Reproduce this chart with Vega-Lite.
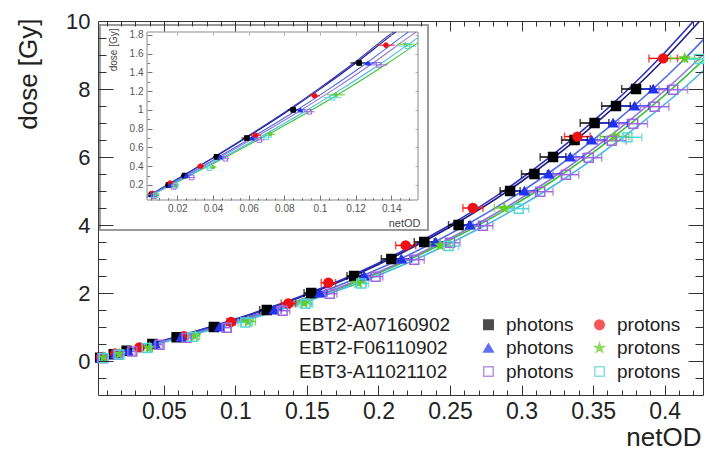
{
  "$schema": "https://vega.github.io/schema/vega-lite/v6.json",
  "width": 605,
  "height": 374,
  "autosize": {"type": "none"},
  "padding": {"left": 98, "top": 21, "right": 2, "bottom": 55},
  "background": "white",
  "config": {
    "view": {"stroke": "#333", "strokeWidth": 1},
    "font": "Liberation Sans",
    "axis": {"grid": false, "labelFont": "Liberation Sans", "titleFont": "Liberation Sans"}
  },
  "datasets": {
    "pts": [
      {"series": "EBT2-A07160902 photons", "film": "EBT2-A07160902", "netOD": 0.0055, "dose": 0.1, "lo": 0.0035, "hi": 0.0075},
      {"series": "EBT2-A07160902 photons", "film": "EBT2-A07160902", "netOD": 0.015, "dose": 0.2, "lo": 0.013, "hi": 0.017},
      {"series": "EBT2-A07160902 photons", "film": "EBT2-A07160902", "netOD": 0.024, "dose": 0.3, "lo": 0.022, "hi": 0.026},
      {"series": "EBT2-A07160902 photons", "film": "EBT2-A07160902", "netOD": 0.042, "dose": 0.5, "lo": 0.04, "hi": 0.044},
      {"series": "EBT2-A07160902 photons", "film": "EBT2-A07160902", "netOD": 0.059, "dose": 0.7, "lo": 0.056, "hi": 0.062},
      {"series": "EBT2-A07160902 photons", "film": "EBT2-A07160902", "netOD": 0.085, "dose": 1.0, "lo": 0.082, "hi": 0.088},
      {"series": "EBT2-A07160902 photons", "film": "EBT2-A07160902", "netOD": 0.122, "dose": 1.5, "lo": 0.117, "hi": 0.127},
      {"series": "EBT2-A07160902 photons", "film": "EBT2-A07160902", "netOD": 0.153, "dose": 2.0, "lo": 0.148, "hi": 0.158},
      {"series": "EBT2-A07160902 photons", "film": "EBT2-A07160902", "netOD": 0.183, "dose": 2.5, "lo": 0.178, "hi": 0.188},
      {"series": "EBT2-A07160902 photons", "film": "EBT2-A07160902", "netOD": 0.209, "dose": 3.0, "lo": 0.202, "hi": 0.216},
      {"series": "EBT2-A07160902 photons", "film": "EBT2-A07160902", "netOD": 0.232, "dose": 3.5, "lo": 0.225, "hi": 0.239},
      {"series": "EBT2-A07160902 photons", "film": "EBT2-A07160902", "netOD": 0.256, "dose": 4.0, "lo": 0.249, "hi": 0.263},
      {"series": "EBT2-A07160902 photons", "film": "EBT2-A07160902", "netOD": 0.292, "dose": 5.0, "lo": 0.285, "hi": 0.299},
      {"series": "EBT2-A07160902 photons", "film": "EBT2-A07160902", "netOD": 0.309, "dose": 5.5, "lo": 0.3, "hi": 0.318},
      {"series": "EBT2-A07160902 photons", "film": "EBT2-A07160902", "netOD": 0.322, "dose": 6.0, "lo": 0.313, "hi": 0.331},
      {"series": "EBT2-A07160902 photons", "film": "EBT2-A07160902", "netOD": 0.337, "dose": 6.5, "lo": 0.328, "hi": 0.346},
      {"series": "EBT2-A07160902 photons", "film": "EBT2-A07160902", "netOD": 0.351, "dose": 7.0, "lo": 0.341, "hi": 0.361},
      {"series": "EBT2-A07160902 photons", "film": "EBT2-A07160902", "netOD": 0.366, "dose": 7.5, "lo": 0.356, "hi": 0.376},
      {"series": "EBT2-A07160902 photons", "film": "EBT2-A07160902", "netOD": 0.38, "dose": 8.0, "lo": 0.37, "hi": 0.39},
      {"series": "EBT2-A07160902 protons", "film": "EBT2-A07160902", "netOD": 0.006, "dose": 0.11, "lo": 0.004, "hi": 0.008},
      {"series": "EBT2-A07160902 protons", "film": "EBT2-A07160902", "netOD": 0.016, "dose": 0.22, "lo": 0.014, "hi": 0.018},
      {"series": "EBT2-A07160902 protons", "film": "EBT2-A07160902", "netOD": 0.033, "dose": 0.4, "lo": 0.031, "hi": 0.035},
      {"series": "EBT2-A07160902 protons", "film": "EBT2-A07160902", "netOD": 0.064, "dose": 0.73, "lo": 0.061, "hi": 0.067},
      {"series": "EBT2-A07160902 protons", "film": "EBT2-A07160902", "netOD": 0.097, "dose": 1.15, "lo": 0.094, "hi": 0.1},
      {"series": "EBT2-A07160902 protons", "film": "EBT2-A07160902", "netOD": 0.137, "dose": 1.69, "lo": 0.132, "hi": 0.142},
      {"series": "EBT2-A07160902 protons", "film": "EBT2-A07160902", "netOD": 0.165, "dose": 2.3, "lo": 0.16, "hi": 0.17},
      {"series": "EBT2-A07160902 protons", "film": "EBT2-A07160902", "netOD": 0.219, "dose": 3.4, "lo": 0.212, "hi": 0.226},
      {"series": "EBT2-A07160902 protons", "film": "EBT2-A07160902", "netOD": 0.266, "dose": 4.5, "lo": 0.259, "hi": 0.273},
      {"series": "EBT2-A07160902 protons", "film": "EBT2-A07160902", "netOD": 0.339, "dose": 6.6, "lo": 0.33, "hi": 0.348},
      {"series": "EBT2-A07160902 protons", "film": "EBT2-A07160902", "netOD": 0.399, "dose": 8.9, "lo": 0.389, "hi": 0.409},
      {"series": "EBT2-F06110902 photons", "film": "EBT2-F06110902", "netOD": 0.006, "dose": 0.1, "lo": 0.004, "hi": 0.008},
      {"series": "EBT2-F06110902 photons", "film": "EBT2-F06110902", "netOD": 0.016, "dose": 0.2, "lo": 0.014, "hi": 0.018},
      {"series": "EBT2-F06110902 photons", "film": "EBT2-F06110902", "netOD": 0.025, "dose": 0.3, "lo": 0.023, "hi": 0.027},
      {"series": "EBT2-F06110902 photons", "film": "EBT2-F06110902", "netOD": 0.044, "dose": 0.5, "lo": 0.042, "hi": 0.046},
      {"series": "EBT2-F06110902 photons", "film": "EBT2-F06110902", "netOD": 0.062, "dose": 0.7, "lo": 0.059, "hi": 0.065},
      {"series": "EBT2-F06110902 photons", "film": "EBT2-F06110902", "netOD": 0.089, "dose": 1.0, "lo": 0.086, "hi": 0.092},
      {"series": "EBT2-F06110902 photons", "film": "EBT2-F06110902", "netOD": 0.127, "dose": 1.5, "lo": 0.122, "hi": 0.132},
      {"series": "EBT2-F06110902 photons", "film": "EBT2-F06110902", "netOD": 0.159, "dose": 2.0, "lo": 0.154, "hi": 0.164},
      {"series": "EBT2-F06110902 photons", "film": "EBT2-F06110902", "netOD": 0.19, "dose": 2.5, "lo": 0.185, "hi": 0.195},
      {"series": "EBT2-F06110902 photons", "film": "EBT2-F06110902", "netOD": 0.216, "dose": 3.0, "lo": 0.209, "hi": 0.223},
      {"series": "EBT2-F06110902 photons", "film": "EBT2-F06110902", "netOD": 0.24, "dose": 3.5, "lo": 0.233, "hi": 0.247},
      {"series": "EBT2-F06110902 photons", "film": "EBT2-F06110902", "netOD": 0.264, "dose": 4.0, "lo": 0.257, "hi": 0.271},
      {"series": "EBT2-F06110902 photons", "film": "EBT2-F06110902", "netOD": 0.302, "dose": 5.0, "lo": 0.293, "hi": 0.311},
      {"series": "EBT2-F06110902 photons", "film": "EBT2-F06110902", "netOD": 0.319, "dose": 5.5, "lo": 0.31, "hi": 0.328},
      {"series": "EBT2-F06110902 photons", "film": "EBT2-F06110902", "netOD": 0.334, "dose": 6.0, "lo": 0.325, "hi": 0.343},
      {"series": "EBT2-F06110902 photons", "film": "EBT2-F06110902", "netOD": 0.349, "dose": 6.5, "lo": 0.34, "hi": 0.358},
      {"series": "EBT2-F06110902 photons", "film": "EBT2-F06110902", "netOD": 0.364, "dose": 7.0, "lo": 0.354, "hi": 0.374},
      {"series": "EBT2-F06110902 photons", "film": "EBT2-F06110902", "netOD": 0.379, "dose": 7.5, "lo": 0.369, "hi": 0.389},
      {"series": "EBT2-F06110902 photons", "film": "EBT2-F06110902", "netOD": 0.392, "dose": 8.0, "lo": 0.382, "hi": 0.402},
      {"series": "EBT2-F06110902 protons", "film": "EBT2-F06110902", "netOD": 0.008, "dose": 0.1, "lo": 0.006, "hi": 0.01},
      {"series": "EBT2-F06110902 protons", "film": "EBT2-F06110902", "netOD": 0.019, "dose": 0.2, "lo": 0.017, "hi": 0.021},
      {"series": "EBT2-F06110902 protons", "film": "EBT2-F06110902", "netOD": 0.04, "dose": 0.39, "lo": 0.038, "hi": 0.042},
      {"series": "EBT2-F06110902 protons", "film": "EBT2-F06110902", "netOD": 0.072, "dose": 0.74, "lo": 0.069, "hi": 0.075},
      {"series": "EBT2-F06110902 protons", "film": "EBT2-F06110902", "netOD": 0.109, "dose": 1.16, "lo": 0.104, "hi": 0.114},
      {"series": "EBT2-F06110902 protons", "film": "EBT2-F06110902", "netOD": 0.148, "dose": 1.7, "lo": 0.143, "hi": 0.153},
      {"series": "EBT2-F06110902 protons", "film": "EBT2-F06110902", "netOD": 0.186, "dose": 2.3, "lo": 0.181, "hi": 0.191},
      {"series": "EBT2-F06110902 protons", "film": "EBT2-F06110902", "netOD": 0.243, "dose": 3.4, "lo": 0.236, "hi": 0.25},
      {"series": "EBT2-F06110902 protons", "film": "EBT2-F06110902", "netOD": 0.288, "dose": 4.5, "lo": 0.281, "hi": 0.295},
      {"series": "EBT2-F06110902 protons", "film": "EBT2-F06110902", "netOD": 0.365, "dose": 6.6, "lo": 0.355, "hi": 0.375},
      {"series": "EBT2-F06110902 protons", "film": "EBT2-F06110902", "netOD": 0.414, "dose": 8.9, "lo": 0.404, "hi": 0.424},
      {"series": "EBT3-A11021102 photons", "film": "EBT3-A11021102", "netOD": 0.007, "dose": 0.08, "lo": 0.005, "hi": 0.009},
      {"series": "EBT3-A11021102 photons", "film": "EBT3-A11021102", "netOD": 0.018, "dose": 0.18, "lo": 0.016, "hi": 0.02},
      {"series": "EBT3-A11021102 photons", "film": "EBT3-A11021102", "netOD": 0.028, "dose": 0.28, "lo": 0.026, "hi": 0.03},
      {"series": "EBT3-A11021102 photons", "film": "EBT3-A11021102", "netOD": 0.047, "dose": 0.48, "lo": 0.045, "hi": 0.049},
      {"series": "EBT3-A11021102 photons", "film": "EBT3-A11021102", "netOD": 0.066, "dose": 0.68, "lo": 0.063, "hi": 0.069},
      {"series": "EBT3-A11021102 photons", "film": "EBT3-A11021102", "netOD": 0.094, "dose": 0.98, "lo": 0.091, "hi": 0.097},
      {"series": "EBT3-A11021102 photons", "film": "EBT3-A11021102", "netOD": 0.133, "dose": 1.48, "lo": 0.128, "hi": 0.138},
      {"series": "EBT3-A11021102 photons", "film": "EBT3-A11021102", "netOD": 0.166, "dose": 1.98, "lo": 0.161, "hi": 0.171},
      {"series": "EBT3-A11021102 photons", "film": "EBT3-A11021102", "netOD": 0.198, "dose": 2.48, "lo": 0.193, "hi": 0.203},
      {"series": "EBT3-A11021102 photons", "film": "EBT3-A11021102", "netOD": 0.225, "dose": 2.98, "lo": 0.218, "hi": 0.232},
      {"series": "EBT3-A11021102 photons", "film": "EBT3-A11021102", "netOD": 0.25, "dose": 3.48, "lo": 0.243, "hi": 0.257},
      {"series": "EBT3-A11021102 photons", "film": "EBT3-A11021102", "netOD": 0.273, "dose": 3.98, "lo": 0.266, "hi": 0.28},
      {"series": "EBT3-A11021102 photons", "film": "EBT3-A11021102", "netOD": 0.313, "dose": 4.98, "lo": 0.304, "hi": 0.322},
      {"series": "EBT3-A11021102 photons", "film": "EBT3-A11021102", "netOD": 0.331, "dose": 5.48, "lo": 0.322, "hi": 0.34},
      {"series": "EBT3-A11021102 photons", "film": "EBT3-A11021102", "netOD": 0.347, "dose": 5.98, "lo": 0.338, "hi": 0.356},
      {"series": "EBT3-A11021102 photons", "film": "EBT3-A11021102", "netOD": 0.363, "dose": 6.48, "lo": 0.353, "hi": 0.373},
      {"series": "EBT3-A11021102 photons", "film": "EBT3-A11021102", "netOD": 0.378, "dose": 6.98, "lo": 0.368, "hi": 0.388},
      {"series": "EBT3-A11021102 photons", "film": "EBT3-A11021102", "netOD": 0.393, "dose": 7.48, "lo": 0.383, "hi": 0.403},
      {"series": "EBT3-A11021102 photons", "film": "EBT3-A11021102", "netOD": 0.406, "dose": 7.98, "lo": 0.396, "hi": 0.416},
      {"series": "EBT3-A11021102 protons", "film": "EBT3-A11021102", "netOD": 0.008, "dose": 0.09, "lo": 0.006, "hi": 0.01},
      {"series": "EBT3-A11021102 protons", "film": "EBT3-A11021102", "netOD": 0.019, "dose": 0.19, "lo": 0.017, "hi": 0.021},
      {"series": "EBT3-A11021102 protons", "film": "EBT3-A11021102", "netOD": 0.038, "dose": 0.38, "lo": 0.036, "hi": 0.04},
      {"series": "EBT3-A11021102 protons", "film": "EBT3-A11021102", "netOD": 0.07, "dose": 0.71, "lo": 0.067, "hi": 0.073},
      {"series": "EBT3-A11021102 protons", "film": "EBT3-A11021102", "netOD": 0.107, "dose": 1.13, "lo": 0.102, "hi": 0.112},
      {"series": "EBT3-A11021102 protons", "film": "EBT3-A11021102", "netOD": 0.149, "dose": 1.68, "lo": 0.144, "hi": 0.154},
      {"series": "EBT3-A11021102 protons", "film": "EBT3-A11021102", "netOD": 0.188, "dose": 2.28, "lo": 0.183, "hi": 0.193},
      {"series": "EBT3-A11021102 protons", "film": "EBT3-A11021102", "netOD": 0.249, "dose": 3.38, "lo": 0.242, "hi": 0.256},
      {"series": "EBT3-A11021102 protons", "film": "EBT3-A11021102", "netOD": 0.298, "dose": 4.48, "lo": 0.291, "hi": 0.305},
      {"series": "EBT3-A11021102 protons", "film": "EBT3-A11021102", "netOD": 0.374, "dose": 6.58, "lo": 0.364, "hi": 0.384},
      {"series": "EBT3-A11021102 protons", "film": "EBT3-A11021102", "netOD": 0.424, "dose": 8.88, "lo": 0.414, "hi": 0.434}
    ],
    "fits": [
      {"series": "EBT2-A07160902 photons", "netOD": 0.004, "dose": 0.084},
      {"series": "EBT2-A07160902 photons", "netOD": 0.05, "dose": 0.6},
      {"series": "EBT2-A07160902 photons", "netOD": 0.1, "dose": 1.22},
      {"series": "EBT2-A07160902 photons", "netOD": 0.15, "dose": 1.95},
      {"series": "EBT2-A07160902 photons", "netOD": 0.2, "dose": 2.84},
      {"series": "EBT2-A07160902 photons", "netOD": 0.25, "dose": 3.94},
      {"series": "EBT2-A07160902 photons", "netOD": 0.3, "dose": 5.28},
      {"series": "EBT2-A07160902 photons", "netOD": 0.35, "dose": 6.92},
      {"series": "EBT2-A07160902 photons", "netOD": 0.4, "dose": 8.89},
      {"series": "EBT2-A07160902 photons", "netOD": 0.4245, "dose": 10.0},
      {"series": "EBT2-A07160902 protons", "netOD": 0.004, "dose": 0.085},
      {"series": "EBT2-A07160902 protons", "netOD": 0.0495, "dose": 0.6},
      {"series": "EBT2-A07160902 protons", "netOD": 0.099, "dose": 1.22},
      {"series": "EBT2-A07160902 protons", "netOD": 0.1485, "dose": 1.95},
      {"series": "EBT2-A07160902 protons", "netOD": 0.198, "dose": 2.84},
      {"series": "EBT2-A07160902 protons", "netOD": 0.2475, "dose": 3.94},
      {"series": "EBT2-A07160902 protons", "netOD": 0.297, "dose": 5.28},
      {"series": "EBT2-A07160902 protons", "netOD": 0.3465, "dose": 6.92},
      {"series": "EBT2-A07160902 protons", "netOD": 0.396, "dose": 8.89},
      {"series": "EBT2-A07160902 protons", "netOD": 0.4203, "dose": 10.0},
      {"series": "EBT2-F06110902 photons", "netOD": 0.004, "dose": 0.08},
      {"series": "EBT2-F06110902 photons", "netOD": 0.0518, "dose": 0.6},
      {"series": "EBT2-F06110902 photons", "netOD": 0.1035, "dose": 1.22},
      {"series": "EBT2-F06110902 photons", "netOD": 0.1553, "dose": 1.95},
      {"series": "EBT2-F06110902 photons", "netOD": 0.207, "dose": 2.84},
      {"series": "EBT2-F06110902 photons", "netOD": 0.2588, "dose": 3.94},
      {"series": "EBT2-F06110902 photons", "netOD": 0.3105, "dose": 5.28},
      {"series": "EBT2-F06110902 photons", "netOD": 0.3623, "dose": 6.92},
      {"series": "EBT2-F06110902 photons", "netOD": 0.414, "dose": 8.89},
      {"series": "EBT2-F06110902 photons", "netOD": 0.4394, "dose": 10.0},
      {"series": "EBT2-F06110902 protons", "netOD": 0.004, "dose": 0.08},
      {"series": "EBT2-F06110902 protons", "netOD": 0.0535, "dose": 0.6},
      {"series": "EBT2-F06110902 protons", "netOD": 0.107, "dose": 1.22},
      {"series": "EBT2-F06110902 protons", "netOD": 0.1605, "dose": 1.95},
      {"series": "EBT2-F06110902 protons", "netOD": 0.214, "dose": 2.84},
      {"series": "EBT2-F06110902 protons", "netOD": 0.2675, "dose": 3.94},
      {"series": "EBT2-F06110902 protons", "netOD": 0.321, "dose": 5.28},
      {"series": "EBT2-F06110902 protons", "netOD": 0.3745, "dose": 6.92},
      {"series": "EBT2-F06110902 protons", "netOD": 0.428, "dose": 8.89},
      {"series": "EBT2-F06110902 protons", "netOD": 0.4542, "dose": 10.0},
      {"series": "EBT3-A11021102 photons", "netOD": 0.004, "dose": 0.08},
      {"series": "EBT3-A11021102 photons", "netOD": 0.053, "dose": 0.6},
      {"series": "EBT3-A11021102 photons", "netOD": 0.106, "dose": 1.22},
      {"series": "EBT3-A11021102 photons", "netOD": 0.159, "dose": 1.95},
      {"series": "EBT3-A11021102 photons", "netOD": 0.212, "dose": 2.84},
      {"series": "EBT3-A11021102 photons", "netOD": 0.265, "dose": 3.94},
      {"series": "EBT3-A11021102 photons", "netOD": 0.318, "dose": 5.28},
      {"series": "EBT3-A11021102 photons", "netOD": 0.371, "dose": 6.92},
      {"series": "EBT3-A11021102 photons", "netOD": 0.424, "dose": 8.89},
      {"series": "EBT3-A11021102 photons", "netOD": 0.45, "dose": 10.0},
      {"series": "EBT3-A11021102 protons", "netOD": 0.004, "dose": 0.08},
      {"series": "EBT3-A11021102 protons", "netOD": 0.0545, "dose": 0.6},
      {"series": "EBT3-A11021102 protons", "netOD": 0.109, "dose": 1.22},
      {"series": "EBT3-A11021102 protons", "netOD": 0.1635, "dose": 1.95},
      {"series": "EBT3-A11021102 protons", "netOD": 0.218, "dose": 2.84},
      {"series": "EBT3-A11021102 protons", "netOD": 0.2725, "dose": 3.94},
      {"series": "EBT3-A11021102 protons", "netOD": 0.327, "dose": 5.28},
      {"series": "EBT3-A11021102 protons", "netOD": 0.3815, "dose": 6.92},
      {"series": "EBT3-A11021102 protons", "netOD": 0.436, "dose": 8.89},
      {"series": "EBT3-A11021102 protons", "netOD": 0.4627, "dose": 10.0}
    ],
    "ifits": [
      {"series": "EBT2-A07160902 photons", "netOD": 0.003, "dose": 0.073},
      {"series": "EBT2-A07160902 photons", "netOD": 0.02, "dose": 0.261},
      {"series": "EBT2-A07160902 photons", "netOD": 0.04, "dose": 0.486},
      {"series": "EBT2-A07160902 photons", "netOD": 0.06, "dose": 0.719},
      {"series": "EBT2-A07160902 photons", "netOD": 0.08, "dose": 0.962},
      {"series": "EBT2-A07160902 photons", "netOD": 0.1, "dose": 1.221},
      {"series": "EBT2-A07160902 photons", "netOD": 0.12, "dose": 1.497},
      {"series": "EBT2-A07160902 photons", "netOD": 0.14, "dose": 1.794},
      {"series": "EBT2-A07160902 photons", "netOD": 0.1425, "dose": 1.83},
      {"series": "EBT2-A07160902 protons", "netOD": 0.003, "dose": 0.075},
      {"series": "EBT2-A07160902 protons", "netOD": 0.0198, "dose": 0.261},
      {"series": "EBT2-A07160902 protons", "netOD": 0.0396, "dose": 0.486},
      {"series": "EBT2-A07160902 protons", "netOD": 0.0594, "dose": 0.719},
      {"series": "EBT2-A07160902 protons", "netOD": 0.0792, "dose": 0.962},
      {"series": "EBT2-A07160902 protons", "netOD": 0.099, "dose": 1.221},
      {"series": "EBT2-A07160902 protons", "netOD": 0.1188, "dose": 1.497},
      {"series": "EBT2-A07160902 protons", "netOD": 0.1386, "dose": 1.794},
      {"series": "EBT2-A07160902 protons", "netOD": 0.1411, "dose": 1.83},
      {"series": "EBT2-F06110902 photons", "netOD": 0.003, "dose": 0.07},
      {"series": "EBT2-F06110902 photons", "netOD": 0.021, "dose": 0.261},
      {"series": "EBT2-F06110902 photons", "netOD": 0.042, "dose": 0.486},
      {"series": "EBT2-F06110902 photons", "netOD": 0.063, "dose": 0.719},
      {"series": "EBT2-F06110902 photons", "netOD": 0.084, "dose": 0.962},
      {"series": "EBT2-F06110902 photons", "netOD": 0.105, "dose": 1.221},
      {"series": "EBT2-F06110902 photons", "netOD": 0.126, "dose": 1.497},
      {"series": "EBT2-F06110902 photons", "netOD": 0.147, "dose": 1.794},
      {"series": "EBT2-F06110902 photons", "netOD": 0.1496, "dose": 1.83},
      {"series": "EBT2-F06110902 protons", "netOD": 0.003, "dose": 0.068},
      {"series": "EBT2-F06110902 protons", "netOD": 0.023, "dose": 0.261},
      {"series": "EBT2-F06110902 protons", "netOD": 0.046, "dose": 0.486},
      {"series": "EBT2-F06110902 protons", "netOD": 0.069, "dose": 0.719},
      {"series": "EBT2-F06110902 protons", "netOD": 0.092, "dose": 0.962},
      {"series": "EBT2-F06110902 protons", "netOD": 0.115, "dose": 1.221},
      {"series": "EBT2-F06110902 protons", "netOD": 0.138, "dose": 1.497},
      {"series": "EBT2-F06110902 protons", "netOD": 0.155, "dose": 1.715},
      {"series": "EBT3-A11021102 photons", "netOD": 0.003, "dose": 0.07},
      {"series": "EBT3-A11021102 photons", "netOD": 0.0216, "dose": 0.261},
      {"series": "EBT3-A11021102 photons", "netOD": 0.0432, "dose": 0.486},
      {"series": "EBT3-A11021102 photons", "netOD": 0.0648, "dose": 0.719},
      {"series": "EBT3-A11021102 photons", "netOD": 0.0864, "dose": 0.962},
      {"series": "EBT3-A11021102 photons", "netOD": 0.108, "dose": 1.221},
      {"series": "EBT3-A11021102 photons", "netOD": 0.1296, "dose": 1.497},
      {"series": "EBT3-A11021102 photons", "netOD": 0.1512, "dose": 1.794},
      {"series": "EBT3-A11021102 photons", "netOD": 0.1539, "dose": 1.83},
      {"series": "EBT3-A11021102 protons", "netOD": 0.003, "dose": 0.068},
      {"series": "EBT3-A11021102 protons", "netOD": 0.0224, "dose": 0.261},
      {"series": "EBT3-A11021102 protons", "netOD": 0.0448, "dose": 0.486},
      {"series": "EBT3-A11021102 protons", "netOD": 0.0672, "dose": 0.719},
      {"series": "EBT3-A11021102 protons", "netOD": 0.0896, "dose": 0.962},
      {"series": "EBT3-A11021102 protons", "netOD": 0.112, "dose": 1.221},
      {"series": "EBT3-A11021102 protons", "netOD": 0.1344, "dose": 1.497},
      {"series": "EBT3-A11021102 protons", "netOD": 0.155, "dose": 1.77}
    ]
  },
  "resolve": {
    "scale": {"x": "independent", "y": "independent"},
    "axis": {"x": "independent", "y": "independent"}
  },
  "layer": [
    {
      "data": {"name": "fits"},
      "mark": {"type": "line", "strokeWidth": 1.6, "interpolate": "monotone", "clip": true},
      "encoding": {
        "x": {"field": "netOD", "type": "quantitative", "scale": {"domain": [0.004, 0.4268], "nice": false, "zero": false},
          "axis": {"orient": "bottom", "offset": -10, "values": [0.05, 0.1, 0.15, 0.2, 0.25, 0.3, 0.35, 0.4], "labels": false, "domain": false, "tickSize": 10, "tickColor": "#333", "tickWidth": 1, "title": null, "zindex": 2}},
        "y": {"field": "dose", "type": "quantitative", "scale": {"domain": [-1, 10], "nice": false, "zero": false},
          "axis": {"orient": "left", "offset": -15, "values": [0, 2, 4, 6, 8], "labels": false, "domain": false, "tickSize": 15, "tickColor": "#333", "tickWidth": 1, "title": null, "zindex": 2}},
        "color": {"field": "series", "type": "nominal", "legend": null,
          "scale": {"domain": ["EBT3-A11021102 protons", "EBT3-A11021102 photons", "EBT2-F06110902 protons", "EBT2-F06110902 photons", "EBT2-A07160902 protons", "EBT2-A07160902 photons"],
            "range": ["#45b9e6", "#9474dc", "#39c339", "#4d6de3", "#2f2fc4", "#1e1e7c"]}}
      }
    },
    {
      "data": {"name": "pts"},
      "mark": {"type": "rule", "strokeWidth": 1.5, "clip": true},
      "encoding": {
        "x": {"field": "lo", "type": "quantitative", "scale": {"domain": [0.004, 0.4268], "nice": false, "zero": false},
          "axis": {"orient": "bottom", "offset": -5, "values": [0.01, 0.02, 0.03, 0.04, 0.06, 0.07, 0.08, 0.09, 0.11, 0.12, 0.13, 0.14, 0.16, 0.17, 0.18, 0.19, 0.21, 0.22, 0.23, 0.24, 0.26, 0.27, 0.28, 0.29, 0.31, 0.32, 0.33, 0.34, 0.36, 0.37, 0.38, 0.39, 0.41, 0.42], "labels": false, "domain": false, "tickSize": 5, "tickColor": "#333", "tickWidth": 1, "title": null, "zindex": 2}},
        "x2": {"field": "hi"},
        "y": {"field": "dose", "type": "quantitative", "scale": {"domain": [-1, 10], "nice": false, "zero": false},
          "axis": {"orient": "left", "offset": -8, "values": [-0.5, 0.5, 1, 1.5, 2.5, 3, 3.5, 4.5, 5, 5.5, 6.5, 7, 7.5, 8.5, 9, 9.5], "labels": false, "domain": false, "tickSize": 8, "tickColor": "#333", "tickWidth": 1, "title": null, "zindex": 2}},
        "stroke": {"field": "series", "type": "nominal",
          "scale": {"domain": ["EBT2-A07160902 photons", "EBT2-F06110902 photons", "EBT3-A11021102 photons", "EBT2-A07160902 protons", "EBT2-F06110902 protons", "EBT3-A11021102 protons"],
            "range": ["#000000", "#2233ee", "#a066e0", "#ee1111", "#66cc22", "#55d5d5"]}}
      }
    },
    {
      "data": {"name": "pts"},
      "mark": {"type": "point", "shape": "M0,-1L0,1", "size": 64, "strokeWidth": 1.5, "filled": false, "clip": true},
      "encoding": {
        "x": {"field": "lo", "type": "quantitative", "scale": {"domain": [0.004, 0.4268], "nice": false, "zero": false},
          "axis": {"orient": "top", "offset": -10, "values": [0.05, 0.1, 0.15, 0.2, 0.25, 0.3, 0.35, 0.4], "labels": false, "domain": false, "tickSize": 10, "tickColor": "#333", "tickWidth": 1, "title": null, "zindex": 2}},
        "y": {"field": "dose", "type": "quantitative", "scale": {"domain": [-1, 10], "nice": false, "zero": false},
          "axis": {"orient": "right", "offset": -15, "values": [0, 2, 4, 6, 8], "labels": false, "domain": false, "tickSize": 15, "tickColor": "#333", "tickWidth": 1, "title": null, "zindex": 2}},
        "stroke": {"field": "series", "type": "nominal"}
      }
    },
    {
      "data": {"name": "pts"},
      "mark": {"type": "point", "shape": "M0,-1L0,1", "size": 64, "strokeWidth": 1.5, "filled": false, "clip": true},
      "encoding": {
        "x": {"field": "hi", "type": "quantitative", "scale": {"domain": [0.004, 0.4268], "nice": false, "zero": false},
          "axis": {"orient": "top", "offset": -5, "values": [0.01, 0.02, 0.03, 0.04, 0.06, 0.07, 0.08, 0.09, 0.11, 0.12, 0.13, 0.14, 0.16, 0.17, 0.18, 0.19, 0.21, 0.22, 0.23, 0.24, 0.26, 0.27, 0.28, 0.29, 0.31, 0.32, 0.33, 0.34, 0.36, 0.37, 0.38, 0.39, 0.41, 0.42], "labels": false, "domain": false, "tickSize": 5, "tickColor": "#333", "tickWidth": 1, "title": null, "zindex": 2}},
        "y": {"field": "dose", "type": "quantitative", "scale": {"domain": [-1, 10], "nice": false, "zero": false},
          "axis": {"orient": "right", "offset": -8, "values": [-0.5, 0.5, 1, 1.5, 2.5, 3, 3.5, 4.5, 5, 5.5, 6.5, 7, 7.5, 8.5, 9, 9.5], "labels": false, "domain": false, "tickSize": 8, "tickColor": "#333", "tickWidth": 1, "title": null, "zindex": 2}},
        "stroke": {"field": "series", "type": "nominal"}
      }
    },
    {
      "data": {"name": "pts"},
      "mark": {"type": "point", "size": 80, "strokeWidth": 1.5, "opacity": 1},
      "encoding": {
        "x": {"field": "netOD", "type": "quantitative", "scale": {"domain": [0.004, 0.4268], "nice": false, "zero": false},
          "axis": {"orient": "bottom", "values": [0.05, 0.1, 0.15, 0.2, 0.25, 0.3, 0.35, 0.4], "format": "~g", "ticks": false, "domain": false, "labelFontSize": 23, "labelColor": "#222", "labelPadding": 5, "labelFlush": false, "labelOverlap": false, "zindex": 2,
            "title": "netOD", "titleFontSize": 26, "titleFontWeight": "normal", "titleColor": "#222", "titleAlign": "right", "titleX": 603, "titleY": 50, "titleBaseline": "alphabetic"}},
        "y": {"field": "dose", "type": "quantitative", "scale": {"domain": [-1, 10], "nice": false, "zero": false},
          "axis": {"orient": "left", "values": [0, 2, 4, 6, 8, 10], "format": "d", "ticks": false, "domain": false, "labelFontSize": 22, "labelColor": "#222", "labelPadding": 8, "labelFlush": false, "labelOverlap": false, "zindex": 2,
            "title": "dose [Gy]", "titleFontSize": 26, "titleFontWeight": "normal", "titleColor": "#222", "titleAngle": -90, "titleAlign": "right", "titleBaseline": "middle", "titleX": -70, "titleY": -3}},
        "fill": {"field": "series", "type": "nominal",
          "scale": {"domain": ["EBT2-A07160902 photons", "EBT2-F06110902 photons", "EBT3-A11021102 photons", "EBT2-A07160902 protons", "EBT2-F06110902 protons", "EBT3-A11021102 protons"],
            "range": ["#000000", "#2233ee", "transparent", "#ee1111", "#66cc22", "transparent"]},
          "legend": {"orient": "none", "legendX": 381, "legendY": 294, "title": null, "columns": 2, "columnPadding": 16, "rowPadding": 3.5, "padding": 0, "symbolSize": 90, "symbolStrokeWidth": 1.5, "labelFontSize": 19, "labelFont": "Liberation Sans", "labelColor": "#222", "labelOffset": 8, "labelLimit": 300, "labelExpr": "split(datum.label, ' ')[1]"}},
        "stroke": {"field": "series", "type": "nominal",
          "legend": {"orient": "none", "legendX": 381, "legendY": 294, "title": null, "columns": 2, "columnPadding": 16, "rowPadding": 3.5, "padding": 0, "symbolSize": 90, "symbolStrokeWidth": 1.5, "labelFontSize": 19, "labelFont": "Liberation Sans", "labelColor": "#222", "labelOffset": 8, "labelLimit": 300, "labelExpr": "split(datum.label, ' ')[1]"}},
        "shape": {"field": "series", "type": "nominal",
          "scale": {"domain": ["EBT2-A07160902 photons", "EBT2-F06110902 photons", "EBT3-A11021102 photons", "EBT2-A07160902 protons", "EBT2-F06110902 protons", "EBT3-A11021102 protons"],
            "range": ["square", "triangle-up", "square", "circle", "M0,-1L0.235,-0.324L0.951,-0.309L0.38,0.124L0.588,0.809L0,0.4L-0.588,0.809L-0.38,0.124L-0.951,-0.309L-0.235,-0.324Z", "square"]},
          "legend": {"orient": "none", "legendX": 381, "legendY": 294, "title": null, "columns": 2, "columnPadding": 16, "rowPadding": 3.5, "padding": 0, "symbolSize": 90, "symbolStrokeWidth": 1.5, "labelFontSize": 19, "labelFont": "Liberation Sans", "labelColor": "#222", "labelOffset": 8, "labelLimit": 300, "labelExpr": "split(datum.label, ' ')[1]"}},
        "opacity": {"field": "film", "type": "nominal",
          "scale": {"domain": ["EBT2-A07160902", "EBT2-F06110902", "EBT3-A11021102"], "range": [1, 1, 1]},
          "legend": {"orient": "none", "legendX": 182, "legendY": 294, "title": null, "padding": 0, "rowPadding": 3.5, "symbolSize": 0, "symbolOpacity": 0, "symbolStrokeWidth": 0, "labelOffset": 0, "labelFontSize": 19, "labelFont": "Liberation Sans", "labelColor": "#222", "labelLimit": 300}}
      }
    },
    {
      "data": {"values": [{}]},
      "mark": {"type": "rect", "fill": "white", "stroke": "#9a9a9a", "strokeWidth": 2},
      "encoding": {
        "x": {"datum": -0.0234, "type": "quantitative", "scale": {"domain": [0.003, 0.155], "range": [49, 320], "nice": false, "zero": false},
          "axis": {"orient": "bottom", "offset": -195, "values": [0.02, 0.04, 0.06, 0.08, 0.1, 0.12, 0.14], "format": "~g", "ticks": false, "domain": false, "labelFontSize": 10, "labelColor": "#555", "labelPadding": 3, "labelFlush": false, "labelOverlap": false, "zindex": 2,
            "title": "netOD", "titleFontSize": 11, "titleFontWeight": "normal", "titleColor": "#444", "titleAlign": "right", "titleX": 322, "titleY": 26, "titleBaseline": "alphabetic"}},
        "x2": {"datum": 0.1606},
        "y": {"datum": 1.905, "type": "quantitative", "scale": {"domain": [0.04, 1.83], "range": [179, 11], "nice": false, "zero": false},
          "axis": {"orient": "left", "offset": -49, "values": [0.2, 0.4, 0.6, 0.8, 1, 1.2, 1.4, 1.6, 1.8], "format": "~g", "ticks": false, "domain": false, "labelFontSize": 10, "labelColor": "#555", "labelPadding": 4, "labelFlush": false, "labelOverlap": false, "zindex": 2,
            "title": "dose [Gy]", "titleFontSize": 10, "titleFontWeight": "normal", "titleColor": "#444", "titleAngle": -90, "titleAlign": "right", "titleBaseline": "middle", "titleX": -34, "titleY": 7}},
        "y2": {"datum": -0.28}
      }
    },
    {
      "data": {"values": [{}]},
      "mark": {"type": "rect", "fill": null, "fillOpacity": 0, "stroke": "#8a8a8a", "strokeWidth": 1},
      "encoding": {
        "x": {"datum": 0.003, "type": "quantitative", "scale": {"domain": [0.003, 0.155], "range": [49, 320], "nice": false, "zero": false}, "axis": null},
        "x2": {"datum": 0.155},
        "y": {"datum": 0.04, "type": "quantitative", "scale": {"domain": [0.04, 1.83], "range": [179, 11], "nice": false, "zero": false}, "axis": null},
        "y2": {"datum": 1.83}
      }
    },
    {
      "data": {"name": "ifits"},
      "mark": {"type": "line", "strokeWidth": 1.1, "interpolate": "monotone"},
      "encoding": {
        "x": {"field": "netOD", "type": "quantitative", "scale": {"domain": [0.003, 0.155], "range": [49, 320], "nice": false, "zero": false},
          "axis": {"orient": "bottom", "offset": -200, "values": [0.02, 0.04, 0.06, 0.08, 0.1, 0.12, 0.14], "labels": false, "domain": false, "tickSize": 5, "tickColor": "#777", "title": null, "zindex": 2}},
        "y": {"field": "dose", "type": "quantitative", "scale": {"domain": [0.04, 1.83], "range": [179, 11], "nice": false, "zero": false},
          "axis": {"orient": "left", "offset": -54, "values": [0.2, 0.4, 0.6, 0.8, 1, 1.2, 1.4, 1.6, 1.8], "labels": false, "domain": false, "tickSize": 5, "tickColor": "#777", "title": null, "zindex": 2}},
        "color": {"field": "series", "type": "nominal", "legend": null}
      }
    },
    {
      "data": {"name": "pts"},
      "transform": [{"filter": "datum.netOD <= 0.15 && datum.dose <= 1.8"}],
      "mark": {"type": "rule", "strokeWidth": 1},
      "encoding": {
        "x": {"field": "lo", "type": "quantitative", "scale": {"domain": [0.003, 0.155], "range": [49, 320], "nice": false, "zero": false},
          "axis": {"orient": "bottom", "offset": -197.5, "values": [0.005, 0.01, 0.015, 0.025, 0.03, 0.035, 0.045, 0.05, 0.055, 0.065, 0.07, 0.075, 0.085, 0.09, 0.095, 0.105, 0.11, 0.115, 0.125, 0.13, 0.135, 0.145, 0.15], "labels": false, "domain": false, "tickSize": 2.5, "tickColor": "#777", "title": null, "zindex": 2}},
        "x2": {"field": "hi"},
        "y": {"field": "dose", "type": "quantitative", "scale": {"domain": [0.04, 1.83], "range": [179, 11], "nice": false, "zero": false},
          "axis": {"orient": "left", "offset": -51.5, "values": [0.1, 0.3, 0.5, 0.7, 0.9, 1.1, 1.3, 1.5, 1.7], "labels": false, "domain": false, "tickSize": 2.5, "tickColor": "#777", "title": null, "zindex": 2}},
        "stroke": {"field": "series", "type": "nominal"}
      }
    },
    {
      "data": {"name": "pts"},
      "transform": [{"filter": "datum.netOD <= 0.15 && datum.dose <= 1.8"}],
      "mark": {"type": "point", "size": 22, "strokeWidth": 1, "opacity": 1},
      "encoding": {
        "x": {"field": "netOD", "type": "quantitative", "scale": {"domain": [0.003, 0.155], "range": [49, 320], "nice": false, "zero": false},
          "axis": {"orient": "top", "offset": -14, "values": [0.02, 0.04, 0.06, 0.08, 0.1, 0.12, 0.14], "labels": false, "domain": false, "tickSize": 3, "tickColor": "#aaa", "title": null, "zindex": 2}},
        "y": {"field": "dose", "type": "quantitative", "scale": {"domain": [0.04, 1.83], "range": [179, 11], "nice": false, "zero": false},
          "axis": {"orient": "right", "offset": -288, "values": [0.2, 0.4, 0.6, 0.8, 1, 1.2, 1.4, 1.6, 1.8], "labels": false, "domain": false, "tickSize": 3, "tickColor": "#aaa", "title": null, "zindex": 2}},
        "fill": {"field": "series", "type": "nominal"},
        "stroke": {"field": "series", "type": "nominal"},
        "shape": {"field": "series", "type": "nominal"}
      }
    }
  ]
}
